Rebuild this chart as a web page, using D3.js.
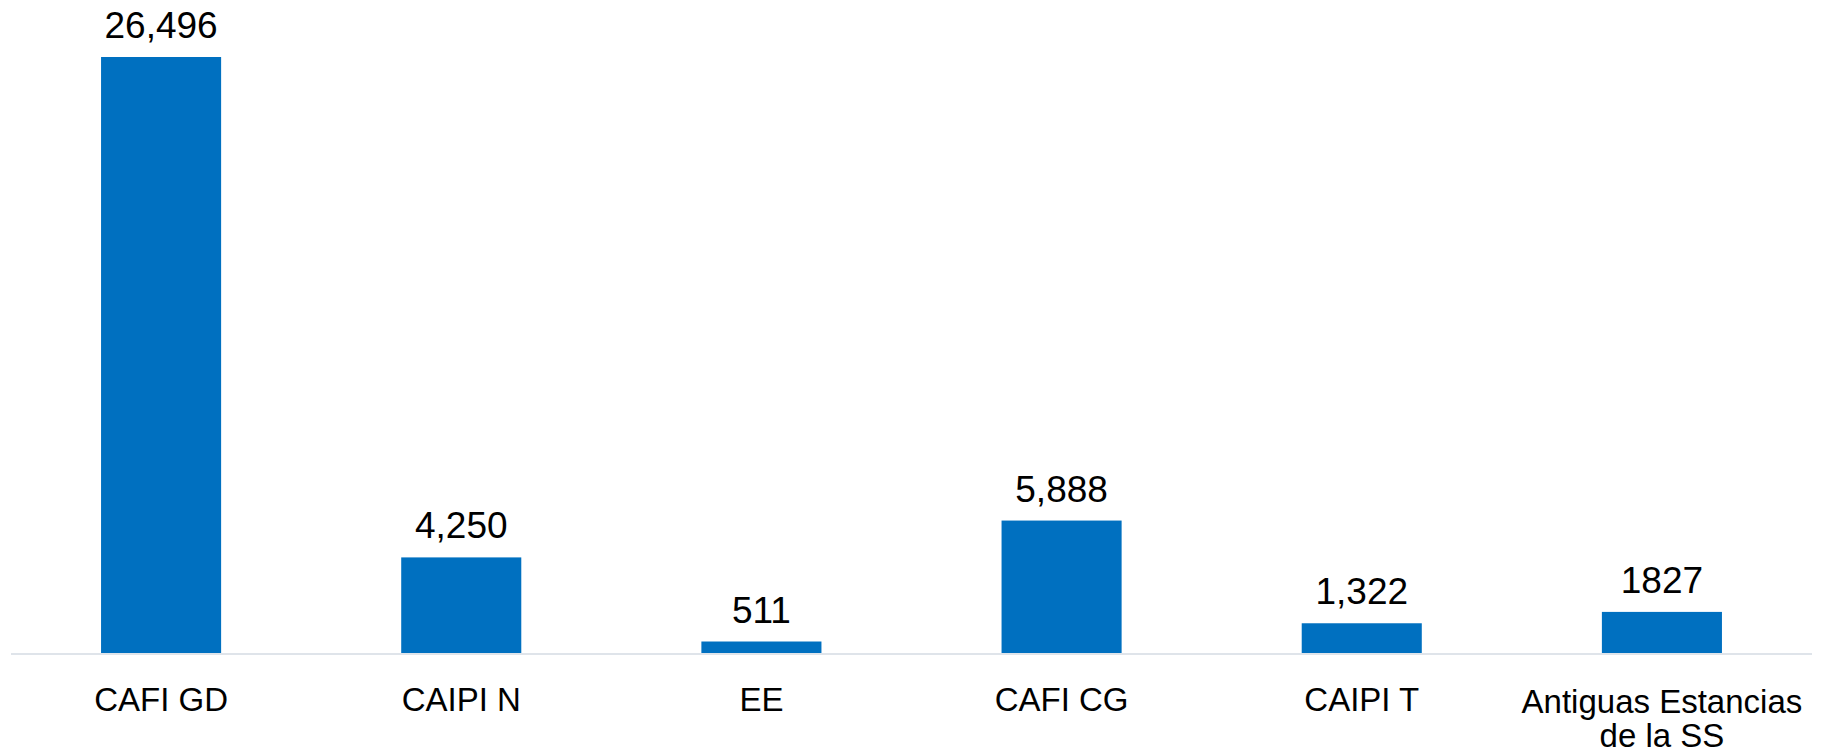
<!DOCTYPE html>
<html>
<head>
<meta charset="utf-8">
<script src="https://cdn.jsdelivr.net/npm/d3@7"></script>
<style>
  body { margin: 0; background: #ffffff; }
  svg text { font-family: "Liberation Sans", Arial, sans-serif; fill: #000000; }
</style>
</head>
<body>
<div id="chart"></div>
<script>
// chart data
var categories = ["CAFI GD", "CAIPI N", "EE", "CAFI CG", "CAIPI T", "Antiguas Estancias|de la SS"];
var values = [26496, 4250, 511, 5888, 1322, 1827];
var valueLabels = ["26,496", "4,250", "511", "5,888", "1,322", "1827"];

var width = 1831, height = 755;
var margin = {top: 57, right: 19, bottom: 102, left: 11};

var svg = d3.select("#chart").append("svg")
    .attr("width", width)
    .attr("height", height);

var x = d3.scaleBand()
    .domain(categories)
    .range([margin.left, width - margin.right])
    .paddingInner(0.6)
    .paddingOuter(0.3);

var y = d3.scaleLinear()
    .domain([0, d3.max(values)])
    .range([height - margin.bottom, margin.top]);

// bars
svg.selectAll("rect.bar")
    .data(values)
    .enter().append("rect")
    .attr("class", "bar")
    .attr("x", function(d, i) { return x(categories[i]); })
    .attr("y", function(d) { return y(d); })
    .attr("width", x.bandwidth())
    .attr("height", function(d) { return y(0) - y(d); })
    .attr("fill", "#0070c0");

// baseline
svg.append("line")
    .attr("x1", margin.left).attr("x2", width - margin.right)
    .attr("y1", y(0) + 1).attr("y2", y(0) + 1)
    .attr("stroke", "#dfe4ea")
    .attr("stroke-width", 2);

// value labels
svg.selectAll("text.value")
    .data(values)
    .enter().append("text")
    .attr("class", "value")
    .attr("x", function(d, i) { return x(categories[i]) + x.bandwidth() / 2; })
    .attr("y", function(d) { return y(d) - 19; })
    .attr("text-anchor", "middle")
    .style("font-size", "37px")
    .text(function(d, i) { return valueLabels[i]; });

// category labels, "|" splits lines
var cat = svg.selectAll("text.cat")
    .data(categories)
    .enter().append("text")
    .attr("class", "cat")
    .attr("text-anchor", "middle")
    .style("font-size", "33px")
    .attr("transform", function(d) {
        var lines = d.split("|").length;
        var by = lines > 1 ? 713 : 711;
        return "translate(" + (x(d) + x.bandwidth() / 2) + "," + by + ")";
    });

cat.selectAll("tspan")
    .data(function(d) { return d.split("|"); })
    .enter().append("tspan")
    .attr("x", 0)
    .attr("dy", function(d, i) { return i === 0 ? 0 : 34; })
    .text(function(d) { return d; });
</script>
</body>
</html>
